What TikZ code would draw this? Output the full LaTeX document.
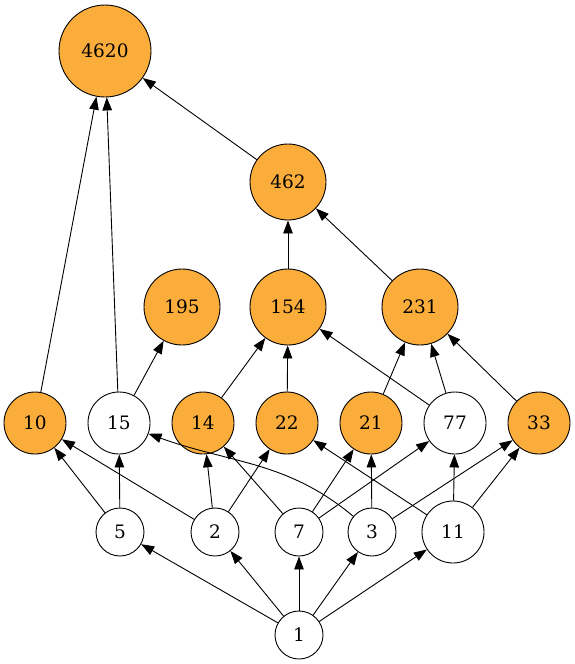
\documentclass[tikz,border=0pt]{standalone}
\usepackage{fontspec}
\setmainfont{DejaVu Serif}
\usepackage{tikz}
\usetikzlibrary{arrows.meta}
\definecolor{divorange}{HTML}{FBAD3C}
\tikzset{
    divisor/.style={shape=circle, draw=black, line width=0.9pt, inner sep=0pt,
        font=\fontsize{18.5}{20}\selectfont},
    vbig/.style={divisor, minimum size=92pt},
    vmid/.style={divisor, minimum size=76pt},
    vsmall/.style={divisor, minimum size=62pt},
    vtiny/.style={divisor, minimum size=48pt},
    marked/.style={fill=divorange},
    >={Triangle[length=13pt,width=9.5pt]}}

\begin{document}
\begin{tikzpicture}[x=1pt, y=-1pt, line width=0.9pt]
        \useasboundingbox (0,0) rectangle (575,664);

                    \node[vbig, marked] (n4620) at (105,51) {4620};
                    \node[vmid, marked] (n462) at (288,182) {462};
                    \node[vmid, marked] (n195) at (182,307) {195};
                    \node[vmid, marked] (n154) at (288,307) {154};
                    \node[vmid, marked] (n231) at (420,307) {231};

                    \node[vsmall, marked] (n10) at (35,423) {10};
                    \node[vsmall] (n15) at (119,423) {15};
                    \node[vsmall, marked] (n14) at (203,423) {14};
                    \node[vsmall, marked] (n22) at (287,423) {22};
                    \node[vsmall, marked] (n21) at (371,423) {21};
                    \node[vsmall] (n77) at (455,423) {77};
                    \node[vsmall, marked] (n33) at (539,423) {33};

                    \node[vtiny] (n5) at (120,532) {5};
                    \node[vtiny] (n2) at (215,532) {2};
                    \node[vtiny] (n7) at (299,532) {7};
                    \node[vtiny] (n3) at (372,532) {3};
                    \node[vsmall] (n11) at (453,532) {11};
                    \node[vtiny] (n1) at (299,635) {1};

                    \draw[->] (n1) -- (n5);
                    \draw[->] (n1) -- (n2);
                    \draw[->] (n1) -- (n7);
                    \draw[->] (n1) -- (n3);
                    \draw[->] (n1) -- (n11);

                    \draw[->] (n5) -- (n10);
                    \draw[->] (n5) -- (n15);
                    \draw[->] (n2) -- (n10);
                    \draw[->] (n2) -- (n14);
                    \draw[->] (n2) -- (n22);
                    \draw[->] (n7) -- (n14);
                    \draw[->] (n7) -- (n21);
                    \draw[->] (n7) -- (n77);
                    \draw[->] (n3) to[out=140, in=-20] (n15);
                    \draw[->] (n3) -- (n21);
                    \draw[->] (n3) -- (n33);
                    \draw[->] (n11) -- (n22);
                    \draw[->] (n11) -- (n77);
                    \draw[->] (n11) -- (n33);

                    \draw[->] (n10) -- (n4620);
                    \draw[->] (n15) -- (n4620);
                    \draw[->] (n15) -- (n195);
                    \draw[->] (n14) -- (n154);
                    \draw[->] (n22) -- (n154);
                    \draw[->] (n77) -- (n154);
                    \draw[->] (n21) -- (n231);
                    \draw[->] (n77) -- (n231);
                    \draw[->] (n33) -- (n231);

                    \draw[->] (n154) -- (n462);
                    \draw[->] (n231) -- (n462);
                    \draw[->] (n462) -- (n4620);

                \end{tikzpicture}
\end{document}
